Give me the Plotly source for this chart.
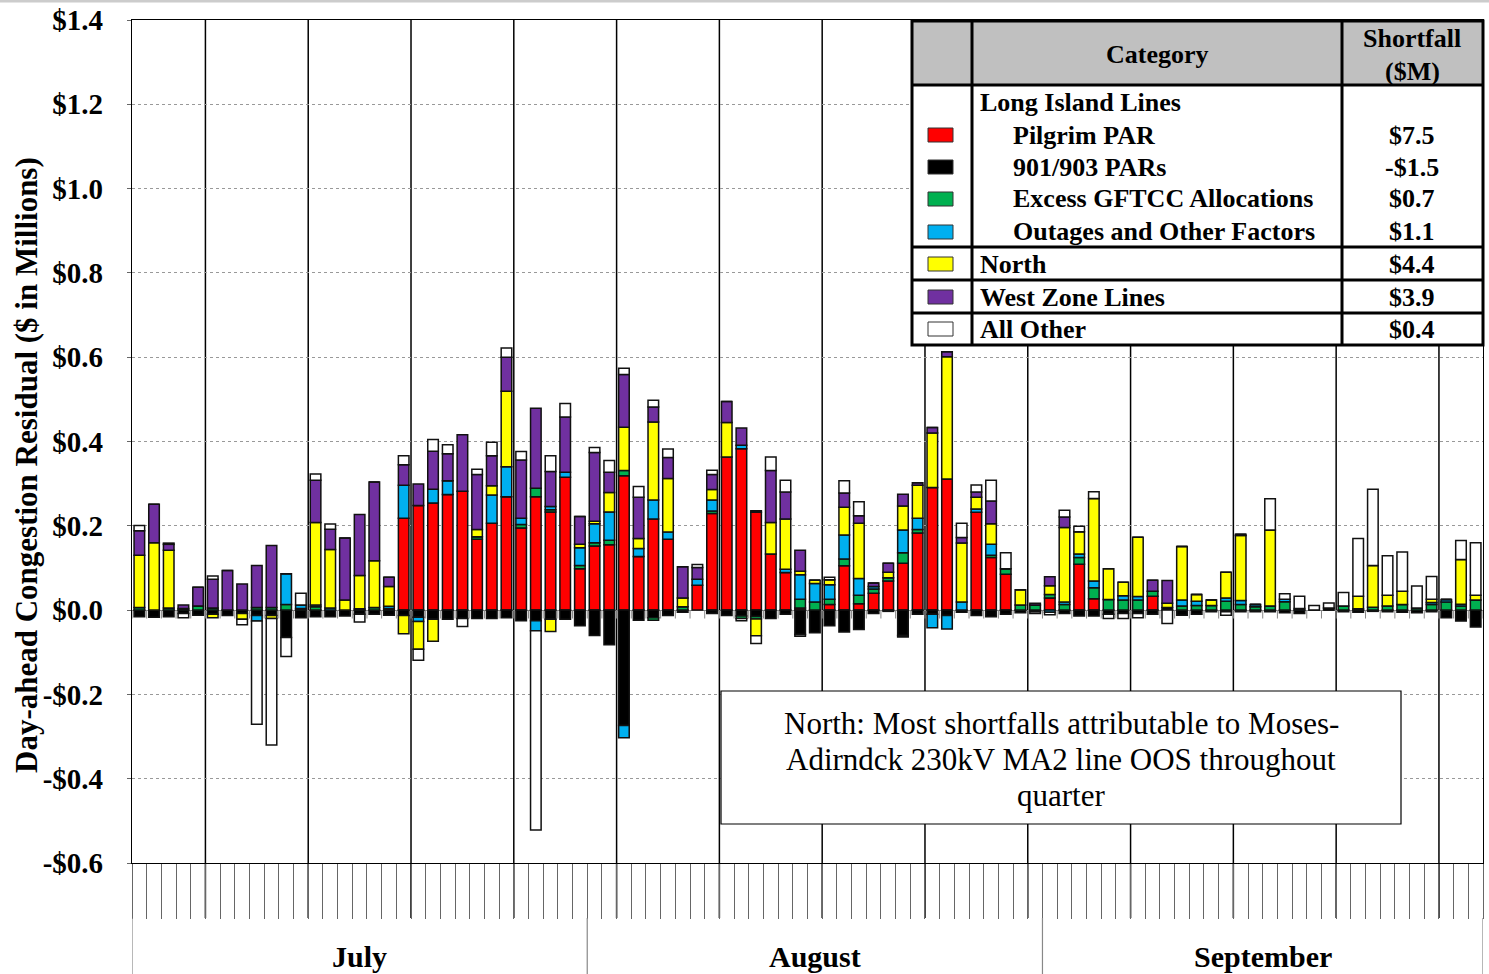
import plotly.graph_objects as go

# ---------------- data ($ millions per day, Jul 1 .. Sep 30) ----------------
pilgrim = [0, 0, 0, 0, 0, 0, 0, 0, 0, 0, 0, 0, 0, 0, 0, 0, 0, 0,
           0.218, 0.248, 0.254, 0.274, 0.282, 0.168, 0.206, 0.269, 0.195, 0.269, 0.233, 0.315, 0.098,
           0.152, 0.155, 0.319, 0.127, 0.216, 0.168, 0, 0.059, 0.229, 0.363, 0.383, 0.232, 0.133, 0.089,
           0.005, 0, 0.013, 0.105, 0.015, 0.04, 0.069, 0.111, 0.183, 0.291, 0.311, 0, 0.232, 0.125, 0.085, 0, 0,
           0.029, 0, 0.109, 0.027, 0, 0, 0, 0.033, 0, 0, 0, 0, 0, 0, 0, 0, 0, 0, 0, 0, 0, 0, 0, 0, 0, 0, 0, 0, 0, 0]
pars_901_903 = [-0.016, -0.017, -0.016, -0.008, -0.012, -0.01, -0.013, -0.008, -0.013, -0.013, -0.065, -0.018,
                -0.016, -0.016, -0.014, -0.01, -0.01, -0.012, -0.013, -0.017, -0.022, -0.022, -0.02, -0.02,
                -0.02, -0.018, -0.025, -0.025, -0.022, -0.022, -0.037,
                -0.06, -0.082, -0.274, -0.024, -0.018, -0.013, -0.005, 0, -0.008, -0.013, -0.014, -0.015,
                -0.02, -0.01, -0.058, -0.054, -0.037, -0.052, -0.046, -0.008, -0.003, -0.06, -0.01, -0.01,
                -0.013, -0.005, -0.013, -0.016, -0.01, -0.006, -0.004,
                0, -0.008, -0.014, -0.014, -0.01, -0.008, -0.008, -0.01, 0.006, -0.012, -0.01, -0.004, -0.004,
                -0.004, -0.004, -0.004, -0.006, -0.008, 0, 0.005, -0.004, -0.005, -0.003, -0.004, -0.005,
                -0.006, -0.004, -0.018, -0.026, -0.04]
gftcc = [0.006, 0, 0.005, 0.004, 0.01, 0.005, 0, 0, 0.006, 0.006, 0.013, 0.004, 0.008, 0, 0, 0.003, 0.006, 0.004,
         0, 0, 0, 0, 0, 0.006, 0, 0, 0.008, 0.02, 0.005, 0, 0.008,
         0.008, 0.011, 0.012, 0, -0.006, 0, 0.008, 0, 0.006, 0, -0.006, -0.006, 0, 0, 0.021, 0.019, 0.013,
         0.016, 0.02, 0.01, 0.008, 0.025, 0.008, 0, 0, 0, 0, 0.005, 0.013, 0.012, 0.012,
         0.008, 0.013, 0.016, 0.026, 0.025, 0.024, 0.024, 0.012, 0, 0.01, 0.011, 0.011, 0.021, 0.013, 0.008,
         0.01, 0.02, 0, 0, 0, 0.01, 0.003, 0.007, 0.01, 0.013, 0.005, 0.013, 0.019, 0.01, 0.024]
outages = [0, 0, 0, 0, 0, 0, 0, 0, -0.013, 0, 0.073, 0.008, 0.004, 0.005, 0, 0, 0, 0.005,
           0.078, -0.01, 0.033, 0.033, 0, 0, 0.067, 0.071, 0.015, -0.024, 0.008, 0.012, 0.042,
           0.045, 0.067, -0.029, 0.019, 0.045, 0.017, 0, 0.014, 0.026, 0, 0.008, 0, 0, 0.008, 0.058, 0.044,
           0.034, 0.057, 0.04, 0.006, 0, 0.054, 0.027, -0.032, -0.032, 0.019, 0.008, 0.026, 0, 0, 0,
           -0.005, 0.006, 0.008, 0.016, 0, 0.01, 0.008, 0, 0, 0.014, 0.01, 0, 0.008, 0.01, 0.005, 0, 0.006,
           0.004, 0, 0, 0, 0, 0, 0, 0, 0, 0.005, 0.006, 0.004, 0]
north = [0.124, 0.16, 0.137, 0, 0, -0.008, 0, -0.014, 0, -0.007, 0, 0, 0.196, 0.139, 0.024, 0.079, 0.111, 0.047,
         -0.043, -0.066, -0.052, 0, 0, 0.017, 0.022, 0.179, 0, 0, -0.029, 0, 0.008,
         0.006, 0.046, 0.103, 0.024, 0.185, 0.127, 0.021, 0, 0.025, 0.082, 0, -0.04, 0.075, 0.119, 0.008, 0.008,
         0.012, 0.066, 0.131, 0, 0.013, 0.057, 0.078, 0.129, 0.29, 0.14, 0.028, 0.049, 0, 0.036, 0,
         0.021, 0.177, 0.053, 0.196, 0.073, 0.032, 0.141, 0, 0.01, 0.127, 0.016, 0.013, 0.061, 0.154, 0,
         0.18, 0, 0, 0, 0, 0, 0.03, 0.099, 0.025, 0.032, 0, 0.008, 0, 0.106, 0.011]
west_zone = [0.058, 0.091, 0.014, 0.008, 0.044, 0.068, 0.094, 0.062, 0.1, 0.147, 0, 0, 0.1, 0.048, 0.147, 0.145,
             0.187, 0.022, 0.049, 0.051, 0.09, 0.064, 0.134, 0.131, 0.071, 0.081, 0.138, 0.19, 0.083, 0.131, 0.066,
             0.163, 0.048, 0.125, 0.098, 0.036, 0.05, 0.074, 0.028, 0.036, 0.05, 0.041, 0.004, 0.123, 0.064, 0.05,
             0, 0, 0.034, 0.018, 0.008, 0.021, 0.028, 0.006, 0.013, 0.012, 0.013, 0.012, 0.054, 0, 0, 0.004,
             0.021, 0.025, 0, 0, 0, 0, 0, 0.026, 0.054, 0, 0, 0, 0, 0.003, 0, 0, 0, 0, 0, 0, 0, 0, 0, 0, 0,
             0, 0, 0, 0, 0]
all_other = [0.013, 0, 0.003, -0.01, 0, 0.008, 0, -0.013, -0.245, -0.3, -0.045, 0.028, 0.015, 0.012, 0, -0.018,
             0, 0, 0.021, -0.026, 0.028, 0.021, -0.019, 0.012, 0.032, 0.022, 0.02, -0.473, 0.037, 0.032, 0,
             0.012, 0.028, 0.015, 0.025, 0.016, 0.02, 0, 0.007, 0.01, 0, -0.005, -0.018, 0.032, 0.028, -0.004,
             0, 0.006, 0.029, 0.033, 0, 0, -0.004, 0, 0, 0, 0.034, 0.017, 0.049, 0.038, 0, -0.004,
             -0.006, 0.016, 0.013, 0.016, -0.01, -0.012, -0.01, 0, -0.032, 0, 0, 0, -0.008, 0, 0, 0.074, 0.013,
             0.029, 0.011, 0.012, 0.032, 0.137, 0.181, 0.094, 0.093, 0.052, 0.054, 0, 0.045, 0.125]

months = ["July", "August", "September"]
month_days = [31, 31, 30]
series_names = ["Pilgrim PAR", "901/903 PARs", "Excess GFTCC Allocations",
                "Outages and Other Factors", "North", "West Zone Lines", "All Other"]
series_values = [pilgrim, pars_901_903, gftcc, outages, north, west_zone, all_other]
series_colors = ["#FF0000", "#000000", "#00B050", "#00B0F0", "#FFFF00", "#7030A0", "#FFFFFF"]
shortfall_text = ["$7.5", "-$1.5", "$0.7", "$1.1", "$4.4", "$3.9", "$0.4"]
ytick_vals = [-0.6, -0.4, -0.2, 0.0, 0.2, 0.4, 0.6, 0.8, 1.0, 1.2, 1.4]
ytick_text = ["-$0.6", "-$0.4", "-$0.2", "$0.0", "$0.2", "$0.4", "$0.6", "$0.8", "$1.0", "$1.2", "$1.4"]
y_title = "Day-ahead Congestion Residual ($ in Millions)"
note_lines = ["North: Most shortfalls attributable to Moses-",
              "Adirndck 230kV MA2 line OOS throughout",
              "quarter"]

# ---------------- figure ----------------
W, H = 1489, 974
ML, MR, MT, MB = 132, 6, 20, 111
PW, PH = W - ML - MR, H - MT - MB
FONT = "Liberation Serif, Times New Roman, serif"
LEG = 26


def px_x(px):
    return (px - ML) / PW


def px_y(py):
    return (MT + PH - py) / PH


n_days = sum(month_days)
days = list(range(n_days))

fig = go.Figure()
for name, vals, col in zip(series_names, series_values, series_colors):
    fig.add_trace(go.Bar(x=days, y=vals, name=name, marker_color=col,
                         marker_line=dict(color="#111111", width=1.5), showlegend=False))

shapes = []
# zero-line category ticks
for b in range(n_days + 1):
    shapes.append(dict(type="line", xref="x", yref="y", x0=b - 0.5, x1=b - 0.5, y0=0, y1=-0.02,
                       line=dict(color="#888888", width=1), layer="below"))
# weekly separators
for w in range(5, n_days, 7):
    shapes.append(dict(type="line", xref="x", yref="paper", x0=w - 0.5, x1=w - 0.5, y0=px_y(918), y1=1,
                       line=dict(color="#000000", width=1.5), layer="below"))
# month separators in the label row
cum = [0]
for d in month_days:
    cum.append(cum[-1] + d)
for c in cum:
    shapes.append(dict(type="line", xref="x", yref="paper", x0=c - 0.5, x1=c - 0.5,
                       y0=px_y(918), y1=px_y(980), line=dict(color="#888888", width=1.2)))
# top grey band
shapes.append(dict(type="line", xref="paper", yref="paper", x0=px_x(0), x1=px_x(W), y0=px_y(1), y1=px_y(1),
                   line=dict(color="#cccccc", width=3)))

# legend table
TL, TR, TT, TB = 912, 1483, 21, 345
C1, C2 = 972, 1342
shapes.append(dict(type="rect", xref="paper", yref="paper", x0=px_x(TL), x1=px_x(TR), y0=px_y(TB), y1=px_y(TT),
                   fillcolor="white", line=dict(width=0)))
shapes.append(dict(type="rect", xref="paper", yref="paper", x0=px_x(TL), x1=px_x(TR), y0=px_y(85), y1=px_y(TT),
                   fillcolor="#C0C0C0", line=dict(width=0)))
for yy in [85, 247, 280, 313]:
    shapes.append(dict(type="line", xref="paper", yref="paper", x0=px_x(TL), x1=px_x(TR), y0=px_y(yy), y1=px_y(yy),
                       line=dict(color="black", width=3)))
for xx in [C1, C2]:
    shapes.append(dict(type="line", xref="paper", yref="paper", x0=px_x(xx), x1=px_x(xx), y0=px_y(TB), y1=px_y(TT),
                       line=dict(color="black", width=3)))
shapes.append(dict(type="rect", xref="paper", yref="paper", x0=px_x(TL), x1=px_x(TR), y0=px_y(TB), y1=px_y(TT),
                   line=dict(color="black", width=3)))

row_y = [135, 167, 199, 232, 264, 297, 329]
annotations = []
for i, (name, col, sf, ry) in enumerate(zip(series_names, series_colors, shortfall_text, row_y)):
    shapes.append(dict(type="rect", xref="paper", yref="paper", x0=px_x(928), x1=px_x(953),
                       y0=px_y(ry + 7), y1=px_y(ry - 7), fillcolor=col,
                       line=dict(color="#333333", width=1)))
    indent = 1011 if i < 4 else 978
    annotations.append(dict(xref="paper", yref="paper", x=px_x(indent), y=px_y(ry), text=f"<b>{name}</b>",
                            showarrow=False, xanchor="left", yanchor="middle",
                            font=dict(family=FONT, size=LEG, color="black")))
    annotations.append(dict(xref="paper", yref="paper", x=px_x(1412), y=px_y(ry), text=f"<b>{sf}</b>",
                            showarrow=False, xanchor="center", yanchor="middle",
                            font=dict(family=FONT, size=LEG, color="black")))
annotations.append(dict(xref="paper", yref="paper", x=px_x(978), y=px_y(102), text="<b>Long Island Lines</b>",
                        showarrow=False, xanchor="left", yanchor="middle",
                        font=dict(family=FONT, size=LEG, color="black")))
annotations.append(dict(xref="paper", yref="paper", x=px_x(1157), y=px_y(55), text="<b>Category</b>",
                        showarrow=False, xanchor="center", yanchor="middle",
                        font=dict(family=FONT, size=LEG, color="black")))
annotations.append(dict(xref="paper", yref="paper", x=px_x(1412), y=px_y(38), text="<b>Shortfall</b>",
                        showarrow=False, xanchor="center", yanchor="middle",
                        font=dict(family=FONT, size=LEG, color="black")))
annotations.append(dict(xref="paper", yref="paper", x=px_x(1412), y=px_y(71), text="<b>($M)</b>",
                        showarrow=False, xanchor="center", yanchor="middle",
                        font=dict(family=FONT, size=LEG, color="black")))

# note box
shapes.append(dict(type="rect", xref="paper", yref="paper", x0=px_x(721), x1=px_x(1401), y0=px_y(824), y1=px_y(691),
                   fillcolor="white", line=dict(color="black", width=1.2)))
for line_txt, ly in zip(note_lines, [723, 759, 795]):
    annotations.append(dict(xref="paper", yref="paper", x=px_x(1061), y=px_y(ly), text=line_txt,
                            showarrow=False, xanchor="center", yanchor="middle",
                            font=dict(family=FONT, size=31, color="black")))

# month labels
for m, s, e in zip(months, cum[:-1], cum[1:]):
    annotations.append(dict(xref="x", yref="paper", x=(s + e - 1) / 2, y=px_y(956), text=f"<b>{m}</b>",
                            showarrow=False, xanchor="center", yanchor="middle",
                            font=dict(family=FONT, size=30, color="black")))

# y-axis title
annotations.append(dict(xref="paper", yref="paper", x=px_x(27), y=px_y(465), text=f"<b>{y_title}</b>",
                        textangle=-90, showarrow=False, xanchor="center", yanchor="middle",
                        font=dict(family=FONT, size=31, color="black")))

fig.update_layout(
    width=W, height=H,
    margin=dict(l=ML, r=MR, t=MT, b=MB, autoexpand=False),
    barmode="relative", bargap=0.28,
    plot_bgcolor="white", paper_bgcolor="white",
    font=dict(family=FONT, color="black"),
    shapes=shapes, annotations=annotations,
    xaxis=dict(range=[-0.5, n_days - 0.5], tickvals=[b - 0.5 for b in range(n_days + 1)],
               showticklabels=False, ticks="outside", ticklen=55, tickcolor="#666666", tickwidth=1,
               showgrid=False, zeroline=False, showline=True, mirror=True, linecolor="black", linewidth=1.2),
    yaxis=dict(range=[-0.6, 1.4], tickvals=ytick_vals, ticktext=[f"<b>{t}</b>" for t in ytick_text],
               tickfont=dict(family=FONT, size=29, color="black"), ticks="outside", ticklen=4,
               tickcolor="#666666", ticklabelstandoff=18,
               showgrid=True, gridcolor="#999999", griddash="dot", gridwidth=1,
               zeroline=True, zerolinecolor="#888888", zerolinewidth=1,
               showline=True, mirror=True, linecolor="black", linewidth=1.2),
)

fig.write_html("out.html", config={"displayModeBar": False},
               post_script="document.body.style.margin='0px';")
